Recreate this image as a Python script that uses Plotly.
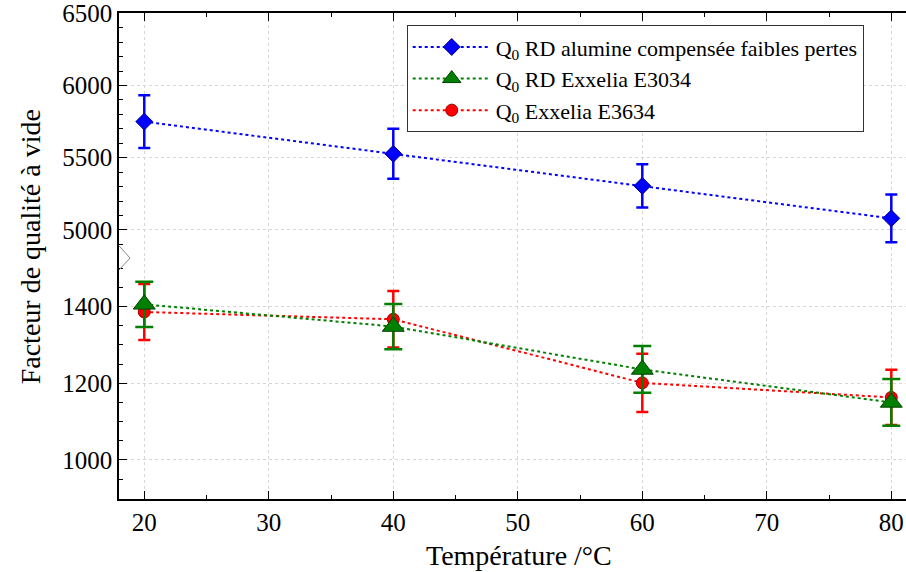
import plotly.graph_objects as go

temps = [20, 40, 60, 80]
q_alumine = [5750, 5527, 5305, 5080]
q_alumine_err = [182, 173, 150, 166]
q_e3034 = [1406, 1348, 1236, 1150]
q_e3034_err = [59, 59, 61, 61]
q_e3634 = [1386, 1367, 1201, 1163]
q_e3634_err = [73, 74, 76, 72]

FONT = "Liberation Serif"

fig = go.Figure()

fig.add_trace(go.Scatter(
    x=temps, y=q_alumine, yaxis="y2", mode="lines+markers",
    name="Q<sub>0</sub> RD alumine compensée faibles pertes", legendrank=1,
    line=dict(color="#0000ff", width=2, dash="dot"),
    marker=dict(symbol="diamond", size=13, color="#0000ff", line=dict(color="#00008b", width=1)),
    error_y=dict(type="data", array=q_alumine_err, color="#0000ff", thickness=2.5, width=6),
))
fig.add_trace(go.Scatter(
    x=temps, y=q_e3634, yaxis="y", mode="lines+markers",
    name="Q<sub>0</sub> Exxelia E3634", legendrank=3,
    line=dict(color="#ff0000", width=2, dash="dot"),
    marker=dict(symbol="circle", size=12, color="#ff0000", line=dict(color="#a00000", width=1)),
    error_y=dict(type="data", array=q_e3634_err, color="#ff0000", thickness=2.5, width=6),
))
fig.add_trace(go.Scatter(
    x=temps, y=q_e3034, yaxis="y", mode="lines+markers",
    name="Q<sub>0</sub> RD Exxelia E3034", legendrank=2,
    line=dict(color="#008000", width=2, dash="dot"),
    marker=dict(symbol="triangle-up", size=19, color="#008000", line=dict(color="#004000", width=1)),
    error_y=dict(type="data", array=q_e3034_err, color="#008000", thickness=2.5, width=9),
))
# invisible helper trace for the top frame axis
fig.add_trace(go.Scatter(x=temps, y=q_alumine, xaxis="x2", yaxis="y2", mode="lines",
                         line=dict(width=0), opacity=0, showlegend=False, hoverinfo="skip"))

axis_common = dict(
    showline=True, linecolor="black", linewidth=1.5,
    ticks="inside", ticklen=8, tickwidth=1, tickcolor="black",
    showgrid=True, gridcolor="#d6d6d6", griddash="dot", gridwidth=1,
    zeroline=False, tickfont=dict(family=FONT, size=25, color="black"),
)

fig.update_layout(
    width=906, height=572,
    margin=dict(l=119, r=0, t=13, b=73),
    paper_bgcolor="white", plot_bgcolor="white",
    font=dict(family=FONT, color="black"),
    showlegend=True,
    legend=dict(
        x=0.3656, y=0.975, xanchor="left", yanchor="top",
        bordercolor="#333333", borderwidth=1, bgcolor="white",
        font=dict(family=FONT, size=22, color="black"),
        itemwidth=78, tracegroupgap=0,
    ),
    xaxis=dict(
        **axis_common, anchor="y", range=[17.97, 81.18], dtick=10, tick0=0,
        minor=dict(dtick=5, ticks="inside", ticklen=4, tickcolor="black", showgrid=False),
    ),
    xaxis2=dict(
        overlaying="x", anchor="y2", side="top", matches="x", range=[17.97, 81.18],
        showline=True, linecolor="black", linewidth=1.5, showticklabels=False,
        ticks="inside", ticklen=8, tickcolor="black", dtick=10, tick0=0, showgrid=False,
        zeroline=False,
        minor=dict(dtick=5, ticks="inside", ticklen=4, tickcolor="black", showgrid=False),
    ),
    yaxis=dict(
        **axis_common, anchor="x", domain=[0, 0.496], range=[898, 1527], dtick=200, tick0=0,
        minor=dict(dtick=50, ticks="inside", ticklen=4, tickcolor="black", showgrid=False),
    ),
    yaxis2=dict(
        **axis_common, anchor="x", domain=[0.496, 1], range=[4806, 6502], dtick=500, tick0=0,
        minor=dict(dtick=100, ticks="inside", ticklen=4, tickcolor="black", showgrid=False),
    ),
    annotations=[
        dict(text="Température /°C", xref="paper", yref="paper", x=0.508, y=-0.117,
             xanchor="center", yanchor="middle", showarrow=False,
             font=dict(family=FONT, size=28, color="black")),
        dict(text="Facteur de qualité à vide", xref="paper", yref="paper", x=-0.113, y=0.518,
             xanchor="center", yanchor="middle", textangle=-90, showarrow=False,
             font=dict(family=FONT, size=28, color="black")),
    ],
    shapes=[
        dict(type="path", xref="paper", yref="paper",
             path="M 0,0.521 L 0.014,0.496 L 0,0.471",
             line=dict(color="#888888", width=1)),
    ],
)

fig.write_html("out.html", config={"displayModeBar": False},
               post_script="document.body.style.margin='0';document.body.style.overflow='hidden';")
